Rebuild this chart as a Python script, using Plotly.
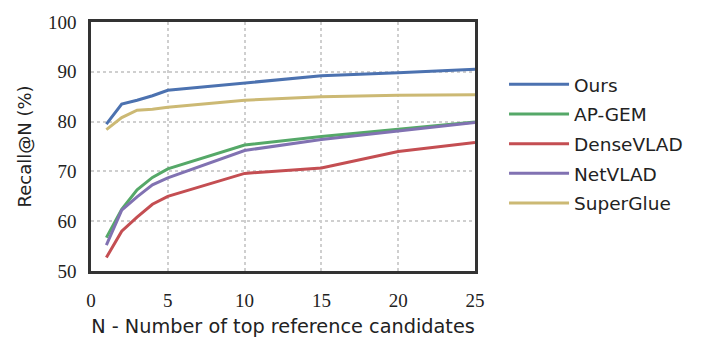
import plotly.graph_objects as go

N = [1, 2, 3, 4, 5, 10, 15, 20, 25]
ours = [79.5, 83.5, 84.3, 85.2, 86.3, 87.8, 89.2, 89.8, 90.5]
ap_gem = [56.7, 62.4, 66.3, 68.8, 70.5, 75.3, 77.0, 78.4, 79.9]
densevlad = [52.7, 58.0, 60.8, 63.4, 65.0, 69.6, 70.7, 74.0, 75.8]
netvlad = [55.2, 62.2, 64.9, 67.3, 68.7, 74.2, 76.4, 78.1, 79.8]
superglue = [78.4, 80.8, 82.3, 82.5, 82.9, 84.3, 85.0, 85.3, 85.4]

series = [
    ("Ours", ours, "#4C72B0"),
    ("AP-GEM", ap_gem, "#55A868"),
    ("DenseVLAD", densevlad, "#C44E52"),
    ("NetVLAD", netvlad, "#8172B2"),
    ("SuperGlue", superglue, "#CCB974"),
]

x_ticks = [0, 5, 10, 15, 20, 25]
y_ticks = [50, 60, 70, 80, 90, 100]

fig = go.Figure()
for name, vals, color in series:
    fig.add_trace(go.Scatter(x=N, y=vals, name=name, mode="lines", legendgroup=name,
                             line=dict(color=color, width=3)))

axis_common = dict(
    showline=True, mirror=True, linecolor="#333333", linewidth=2.5,
    showgrid=True, gridcolor="#cfcfcf", griddash="dot", gridwidth=1.5,
    ticks="", zeroline=False, automargin=False,
    tickfont=dict(family="Liberation Serif", size=19, color="#222222"),
)

fig.update_layout(
    width=706, height=348,
    margin=dict(l=83, r=239, t=14, b=85),
    paper_bgcolor="white", plot_bgcolor="white",
    xaxis=dict(range=[0, 25], tickvals=x_ticks, ticklabelstandoff=10, **axis_common,
               title=dict(text="N - Number of top reference candidates",
                          font=dict(family="DejaVu Sans", size=19.3, color="#222222"),
                          standoff=10)),
    yaxis=dict(range=[50, 100], tickvals=y_ticks, ticklabelstandoff=8, **axis_common,
               title=dict(text="Recall@N (%)",
                          font=dict(family="DejaVu Sans", size=18, color="#222222"),
                          standoff=12)),
    legend=dict(x=1.0756, y=0.824, xanchor="left", yanchor="top",
                font=dict(family="DejaVu Sans", size=18.5, color="#222222"),
                bgcolor="rgba(0,0,0,0)", tracegroupgap=2.6, itemwidth=60),
    showlegend=True,
)

fig.write_html("out.html")
